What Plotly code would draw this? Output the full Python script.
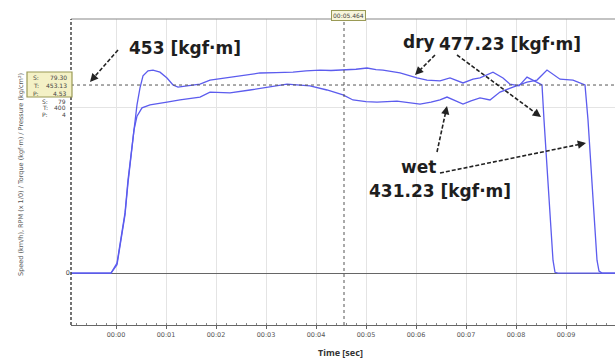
import plotly.graph_objects as go

# ---------------- data ----------------
dry_t = [-0.9, -0.10, 0.02, 0.08, 0.18, 0.24, 0.32, 0.36, 0.42, 0.48, 0.54, 0.64, 0.74, 0.88,
         1.02, 1.14, 1.24, 1.42, 1.68, 1.88, 2.28, 2.60, 2.88, 3.20, 3.54, 3.80, 4.08, 4.30,
         4.54, 4.80, 5.02, 5.20, 5.34, 5.50, 5.68, 5.85, 6.02, 6.22, 6.48, 6.68, 6.94, 7.14,
         7.28, 7.54, 7.74, 7.88, 8.06, 8.22, 8.40, 8.52, 8.56, 8.66, 8.74, 8.78, 8.84, 9.98]
dry_v = [0, 0, 24, 72, 145, 224, 304, 357, 405, 446, 475, 487, 489, 484,
         470, 453, 448, 451, 455, 465, 472, 477, 482, 483, 484, 487, 489, 488,
         489, 491, 494, 490, 489, 486, 482, 476, 470, 465, 463, 470, 458, 467,
         470, 484, 470, 455, 451, 472, 460, 453, 369, 180, 31, 2, 0, 0]

wet_t = [-0.9, -0.10, 0.02, 0.08, 0.18, 0.24, 0.32, 0.36, 0.42, 0.52, 0.68, 0.88, 1.02,
         1.28, 1.68, 1.88, 2.28, 2.68, 3.08, 3.42, 3.88, 4.22, 4.54, 4.74, 5.00, 5.22,
         5.62, 5.85, 6.08, 6.30, 6.48, 6.62, 6.94, 7.10, 7.28, 7.48, 7.68, 7.94, 8.22,
         8.42, 8.62, 8.88, 9.14, 9.38, 9.44, 9.54, 9.62, 9.66, 9.72, 9.98]
wet_v = [0, 0, 20, 67, 140, 217, 296, 345, 378, 398, 405, 410, 412,
         417, 424, 436, 434, 441, 448, 455, 451, 441, 429, 417, 413, 412,
         414, 410, 407, 412, 417, 424, 407, 415, 422, 417, 436, 448, 460,
         465, 489, 467, 465, 453, 369, 180, 31, 5, 0, 0]

x_ticks = [0, 1, 2, 3, 4, 5, 6, 7, 8, 9]
x_labels = ["00:00", "00:01", "00:02", "00:03", "00:04", "00:05", "00:06", "00:07", "00:08", "00:09"]
cursor_t = 4.56
cursor_v = 453

# ---------------- layout helpers ----------------
W, H = 615, 358
L, R, T, B = 71, 615, 19, 325


def px(x):
    return (x - L) / (R - L)


def py(y):
    return (B - y) / (B - T)


LINE = "#5c5cee"
fig = go.Figure()
fig.add_trace(go.Scatter(x=dry_t, y=dry_v, mode="lines", line=dict(color=LINE, width=1.3),
                         name="dry", showlegend=False))
fig.add_trace(go.Scatter(x=wet_t, y=wet_v, mode="lines", line=dict(color=LINE, width=1.3),
                         name="wet", showlegend=False))

shapes = []
# cursor lines
shapes.append(dict(type="line", xref="x", yref="paper", x0=cursor_t, x1=cursor_t, y0=0, y1=1,
                   line=dict(color="#555", width=1, dash="dot")))
shapes.append(dict(type="line", xref="paper", yref="y", x0=0, x1=1, y0=cursor_v, y1=cursor_v,
                   line=dict(color="#555", width=1, dash="dot")))
# frame
shapes.append(dict(type="line", xref="paper", yref="paper", x0=0, x1=1, y0=1, y1=1,
                   line=dict(color="#888", width=1.2)))
shapes.append(dict(type="line", xref="paper", yref="paper", x0=0, x1=0, y0=0, y1=1,
                   line=dict(color="#444", width=1.5, dash="3px,2px")))

annotations = []

# dashed arrows
arrows = [((118, 50), (90, 82)), ((435, 55), (415, 75)), ((457, 55), (541, 117)),
          ((437, 152), (447, 106)), ((440, 173), (586, 143))]
for (x0, y0), (x1, y1) in arrows:
    dx, dy = x1 - x0, y1 - y0
    n = (dx * dx + dy * dy) ** 0.5
    ux, uy = dx / n, dy / n
    ex, ey = x1 - ux * 5, y1 - uy * 5
    shapes.append(dict(type="line", xref="paper", yref="paper", x0=px(x0), y0=py(y0),
                       x1=px(ex), y1=py(ey), line=dict(color="#222", width=1.6, dash="4px,2px")))
    annotations.append(dict(xref="paper", yref="paper", x=px(x1), y=py(y1), text="",
                            showarrow=True, arrowhead=2, arrowsize=1.1, arrowwidth=1.5,
                            arrowcolor="#222", ax=-ux * 9, ay=-uy * 9, standoff=0))

BIG = dict(family="DejaVu Sans, sans-serif", size=17, color="#1e1e1e")


def txt(x, y, s, font, xanchor="left", yanchor="middle", **kw):
    annotations.append(dict(xref="paper", yref="paper", x=px(x), y=py(y), text=s,
                            showarrow=False, xanchor=xanchor, yanchor=yanchor, font=font, **kw))


txt(127, 48, "<b>453 [kgf·m]</b>", BIG)
txt(401, 42, "<b>dry</b>", BIG)
txt(437, 44, "<b>477.23 [kgf·m]</b>", BIG)
txt(399, 167, "<b>wet</b>", BIG)
txt(367, 191, "<b>431.23 [kgf·m]</b>", BIG)

SMALL = dict(family="DejaVu Sans, sans-serif", size=6, color="#444")
# top cursor label
txt(348, 15, "00:05.464", SMALL, xanchor="center", bgcolor="#f7f5dc", bordercolor="#9a9a55",
    borderwidth=1, borderpad=1)

# tooltip box
shapes.append(dict(type="rect", xref="paper", yref="paper", x0=px(27), x1=px(72), y0=py(97), y1=py(72),
                   fillcolor="#f4f1c6", line=dict(color="#9a9a55", width=1.2), layer="above"))
for i, (lab, val) in enumerate([("S:", "79.30"), ("T:", "453.13"), ("P:", "4.53")]):
    yy = 77 + i * 8
    txt(31, yy, lab, SMALL)
    txt(69, yy, val, SMALL, xanchor="right")
# stacked axis labels
for i, (lab, val) in enumerate([("S:", "79"), ("T:", "400"), ("P:", "4")]):
    yy = 101 + i * 6.5
    txt(40, yy, lab, SMALL)
    txt(68, yy, val, SMALL, xanchor="right")

# y axis title
annotations.append(dict(xref="paper", yref="paper", x=px(21), y=py(175),
                        text="Speed (km/h), RPM (x 1/0) / Torque (kgf·m) / Pressure (kg/cm²)",
                        textangle=-90, showarrow=False, xanchor="center", yanchor="middle",
                        font=dict(family="DejaVu Sans, sans-serif", size=6.5, color="#555")))
# x axis title
txt(340, 352, "<b>Time [sec]</b>", dict(family="Noto Sans, sans-serif", size=9, color="#333"),
    xanchor="center")

fig.update_layout(
    width=W, height=H,
    margin=dict(l=L, r=W - R, t=T, b=H - B),
    paper_bgcolor="white", plot_bgcolor="white",
    shapes=shapes, annotations=annotations,
    xaxis=dict(range=[-0.9, 9.98], tickvals=x_ticks, ticktext=x_labels, showgrid=True,
               gridcolor="#e4e4e4", gridwidth=1, showline=True, linecolor="#666", linewidth=1,
               ticks="outside", ticklen=3, tickcolor="#666", zeroline=False,
               tickfont=dict(family="DejaVu Sans, sans-serif", size=6.5, color="#555"),
               minor=dict(ticks="inside", ticklen=2, dtick=0.2, tickcolor="#888", showgrid=False)),
    yaxis=dict(range=[-125, 612], tickvals=[0, 400], ticktext=["0", ""], showgrid=True,
               gridcolor="#e4e4e4", zeroline=True, zerolinecolor="#666", zerolinewidth=1.2,
               showline=False, ticks="",
               tickfont=dict(family="DejaVu Sans, sans-serif", size=6.5, color="#444")),
)

fig.write_html("out.html")
